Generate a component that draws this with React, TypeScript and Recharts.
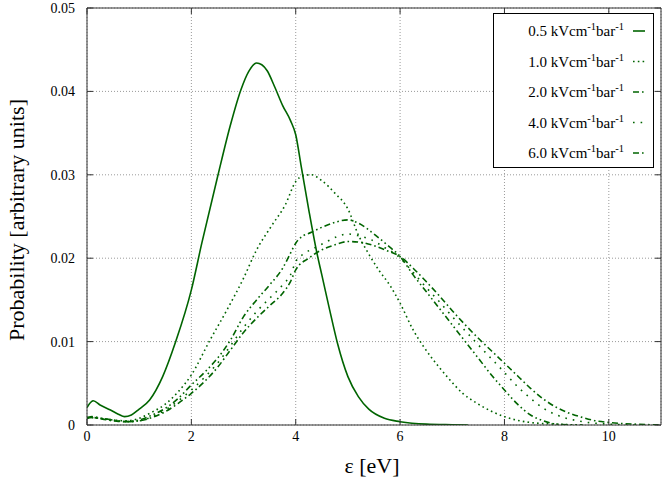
import React from 'react';
import { LineChart, Line, XAxis, YAxis, CartesianGrid } from 'recharts';

// ---- data ----
const seriesNames = ['0.5', '1.0', '2.0', '4.0', '6.0'];

const eps05 = [0, 0.12, 0.25, 0.45, 0.6, 0.72, 0.85, 1.0, 1.2, 1.45, 1.7, 2.0, 2.2, 2.5, 2.75, 2.95, 3.1, 3.25, 3.35, 3.45, 3.6, 3.75, 3.9, 4.0, 4.1, 4.25, 4.4, 4.5, 4.65, 4.8, 5.0, 5.2, 5.4, 5.7, 6.0, 6.5, 7.0, 7.3];
const prob05 = [0.0021, 0.0029, 0.0024, 0.0018, 0.0013, 0.0010, 0.0012, 0.0019, 0.0030, 0.0058, 0.0100, 0.0162, 0.0218, 0.0297, 0.0360, 0.0402, 0.0424, 0.0434, 0.0432, 0.0425, 0.0405, 0.0383, 0.0365, 0.0348, 0.0312, 0.0258, 0.0208, 0.0180, 0.0138, 0.0098, 0.0058, 0.0034, 0.0019, 0.0008, 0.0004, 0.0001, 0.00003, 0.0];

const eps10 = [0, 0.25, 0.5, 0.75, 1.0, 1.2, 1.5, 1.75, 2.0, 2.35, 2.7, 3.0, 3.25, 3.55, 3.8, 4.0, 4.15, 4.3, 4.5, 4.75, 5.0, 5.2, 5.4, 5.6, 5.8, 6.0, 6.25, 6.45, 6.6, 6.9, 7.2, 7.5, 8.0, 8.5, 9.0, 9.5];
const prob10 = [0.0009, 0.0008, 0.0006, 0.0005, 0.0008, 0.0014, 0.0025, 0.0040, 0.0060, 0.0101, 0.0140, 0.0176, 0.0210, 0.0240, 0.0264, 0.0292, 0.0299, 0.0300, 0.0293, 0.0278, 0.0259, 0.0228, 0.0205, 0.0185, 0.0168, 0.0146, 0.0114, 0.0094, 0.0081, 0.0058, 0.0038, 0.0025, 0.0010, 0.0003, 0.0001, 0.0];

const eps20 = [0, 0.1, 0.3, 0.5, 0.75, 1.0, 1.25, 1.5, 1.75, 2.0, 2.25, 2.5, 2.75, 3.0, 3.25, 3.5, 3.75, 3.9, 4.0, 4.1, 4.3, 4.5, 4.75, 5.0, 5.2, 5.5, 5.75, 6.0, 6.25, 6.5, 6.75, 7.0, 7.25, 7.5, 7.75, 8.0, 8.25, 8.5, 8.75, 9.0, 9.5];
const prob20 = [0.0009, 0.0010, 0.0008, 0.0006, 0.0004, 0.0006, 0.0012, 0.0020, 0.0032, 0.0048, 0.0063, 0.0080, 0.0102, 0.0130, 0.0150, 0.0168, 0.0188, 0.0206, 0.0218, 0.0225, 0.0231, 0.0237, 0.0243, 0.0246, 0.0242, 0.0229, 0.0216, 0.0202, 0.0180, 0.0160, 0.0140, 0.0120, 0.0100, 0.0080, 0.0060, 0.0042, 0.0025, 0.0012, 0.0005, 0.0001, 0.0];

const eps40 = [0, 0.1, 0.3, 0.5, 0.75, 1.0, 1.25, 1.5, 1.75, 2.0, 2.25, 2.5, 2.75, 3.0, 3.25, 3.5, 3.75, 3.9, 4.0, 4.15, 4.35, 4.6, 4.8, 5.0, 5.2, 5.45, 5.7, 5.95, 6.25, 6.5, 6.75, 7.0, 7.5, 8.0, 8.25, 8.5, 8.75, 9.0, 9.5, 10.0, 10.5];
const prob40 = [0.0008, 0.0009, 0.0007, 0.0005, 0.0004, 0.0005, 0.0010, 0.0018, 0.0029, 0.0042, 0.0057, 0.0074, 0.0095, 0.0117, 0.0136, 0.0152, 0.0168, 0.0180, 0.0196, 0.0205, 0.0212, 0.0220, 0.0226, 0.0229, 0.0227, 0.0222, 0.0213, 0.0203, 0.0183, 0.0165, 0.0148, 0.0130, 0.0096, 0.0063, 0.0046, 0.0032, 0.0020, 0.0012, 0.0004, 0.0001, 0.0];

const eps60 = [0, 0.1, 0.3, 0.5, 0.75, 1.0, 1.25, 1.5, 1.75, 2.0, 2.25, 2.5, 2.75, 3.0, 3.25, 3.5, 3.75, 3.9, 4.0, 4.25, 4.5, 4.75, 5.0, 5.25, 5.5, 5.75, 6.0, 6.25, 6.5, 6.75, 7.0, 7.25, 7.5, 7.75, 8.0, 8.25, 8.5, 8.75, 9.0, 9.25, 9.5, 9.75, 10.0, 10.5, 11.0];
const prob60 = [0.0008, 0.0009, 0.0007, 0.0005, 0.0004, 0.0005, 0.0009, 0.0016, 0.0026, 0.0038, 0.0052, 0.0069, 0.0090, 0.0111, 0.0128, 0.0143, 0.0158, 0.0172, 0.0186, 0.0200, 0.0210, 0.0216, 0.0220, 0.0219, 0.0215, 0.0209, 0.0202, 0.0188, 0.0172, 0.0155, 0.0137, 0.0120, 0.0104, 0.0089, 0.0074, 0.0059, 0.0044, 0.0031, 0.0021, 0.0014, 0.0009, 0.0005, 0.0003, 0.0001, 0.0];

const xTicks = [0, 2, 4, 6, 8, 10];
const yTicks = [0, 0.01, 0.02, 0.03, 0.04, 0.05];

const toData = (xs: number[], ys: number[]) => xs.map((x, i) => ({ x, y: ys[i] }));

const COLOR = '#006400';
const FONT = '"Liberation Serif", "Times New Roman", serif';
const dashes = [undefined, '1.6 3.2', '6 3 1.6 3 1.6 3', '1.6 6', '6 3 1.6 3'];

const series = [
  { name: seriesNames[0], data: toData(eps05, prob05) },
  { name: seriesNames[1], data: toData(eps10, prob10) },
  { name: seriesNames[2], data: toData(eps20, prob20) },
  { name: seriesNames[3], data: toData(eps40, prob40) },
  { name: seriesNames[4], data: toData(eps60, prob60) },
];

const W = 664;
const H = 478;
// plot area: left 87, top 8, right 661, bottom 425
const M = { top: 7, right: 2, bottom: 23, left: 27 };

const yFmt = (v: number) => (v === 0 ? '0' : v.toFixed(2));

export default function App() {
  return (
    <div style={{ position: 'fixed', left: 0, top: 0, width: W, height: H, background: '#fff' }}>
      <LineChart width={W} height={H} margin={M}>
        <CartesianGrid stroke="#9a9a9a" strokeDasharray="1 2" strokeWidth={1} />
        <XAxis
          type="number"
          dataKey="x"
          domain={[0, 11]}
          ticks={xTicks}
          allowDataOverflow
          height={30}
          tickSize={-6}
          tickMargin={12}
          stroke="#333"
          tick={{ fill: '#000', fontFamily: FONT, fontSize: 14 }}
          tickLine={{ stroke: '#333' }}
        />
        <XAxis
          xAxisId="t"
          orientation="top"
          type="number"
          dataKey="x"
          domain={[0, 11]}
          ticks={xTicks}
          allowDataOverflow
          height={1}
          tickSize={-6}
          stroke="#333"
          tickFormatter={() => ''}
        />
        <YAxis
          type="number"
          domain={[0, 0.05]}
          ticks={yTicks}
          allowDataOverflow
          width={60}
          tickSize={-6}
          tickMargin={18}
          stroke="#333"
          tickFormatter={yFmt}
          tick={{ fill: '#000', fontFamily: FONT, fontSize: 14 }}
        />
        <YAxis
          yAxisId="r"
          orientation="right"
          type="number"
          domain={[0, 0.05]}
          ticks={yTicks}
          allowDataOverflow
          width={1}
          tickSize={-6}
          stroke="#333"
          tickFormatter={() => ''}
        />
        {series.map((s, i) => (
          <Line
            key={s.name}
            data={s.data}
            dataKey="y"
            name={s.name}
            type="monotone"
            stroke={COLOR}
            strokeWidth={1.6}
            strokeDasharray={dashes[i]}
            dot={false}
            activeDot={false}
            isAnimationActive={false}
          />
        ))}
      </LineChart>
      <svg
        width={W}
        height={H}
        style={{ position: 'absolute', left: 0, top: 0, pointerEvents: 'none' }}
      >
        <text
          x={0}
          y={0}
          transform="translate(24,220) rotate(-90)"
          textAnchor="middle"
          fontFamily={FONT}
          fontSize={22}
          fill="#000"
        >
          Probability [arbitrary units]
        </text>
        <text x={372} y={473} textAnchor="middle" fontFamily={FONT} fontSize={22} fill="#000">
          ε [eV]
        </text>
        <g transform="translate(493,13)">
          <rect x={0.5} y={0.5} width={160} height={154} fill="#fff" stroke="#000" strokeWidth={1} />
          {seriesNames.map((n, i) => {
            const cy = 18 + i * 30.5;
            return (
              <g key={n}>
                <text x={131} y={cy + 5} textAnchor="end" fontFamily={FONT} fontSize={15} fill="#000">
                  {n} kVcm<tspan dy={-6} fontSize={10.5}>-1</tspan>
                  <tspan dy={6}>bar</tspan>
                  <tspan dy={-6} fontSize={10.5}>-1</tspan>
                </text>
                <line x1={140} x2={152} y1={cy} y2={cy} stroke={COLOR} strokeWidth={1.6} strokeDasharray={dashes[i]} />
              </g>
            );
          })}
        </g>
      </svg>
    </div>
  );
}
